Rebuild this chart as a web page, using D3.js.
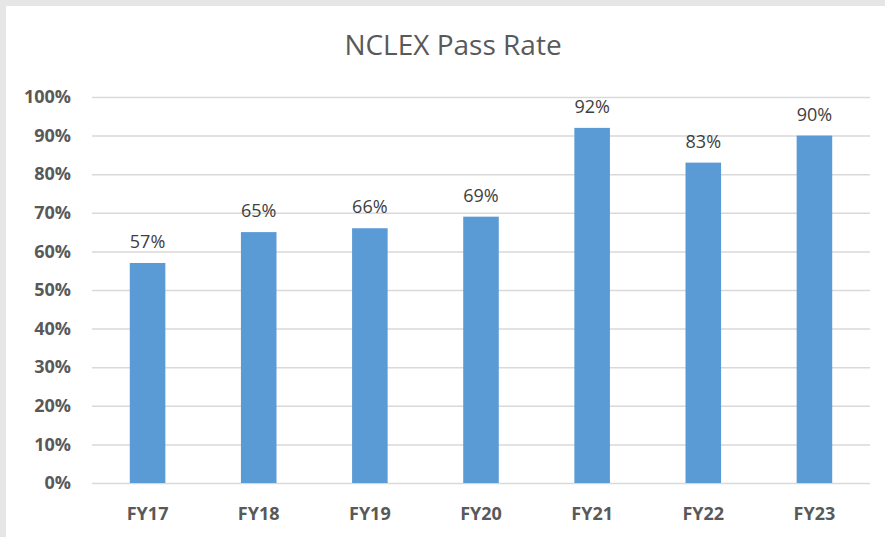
<!DOCTYPE html>
<html>
<head>
<meta charset="utf-8">
<script src="https://cdn.jsdelivr.net/npm/d3@7"></script>
<style>
  body { margin: 0; background: #e8e8e8; }
  svg { display: block; }
</style>
</head>
<body>
<div id="chart"></div>
<script>
// data
var years = ["FY17", "FY18", "FY19", "FY20", "FY21", "FY22", "FY23"];
var passRate = [57, 65, 66, 69, 92, 83, 90];
var yTicks = [0, 10, 20, 30, 40, 50, 60, 70, 80, 90, 100];

const width = 885,
    height = 537,
    plotLeft = 92,
    plotRight = 870,
    plotTop = 97,
    plotBottom = 483,
    barColor = "#5b9bd5",
    gridColor = "#d9d9d9",
    textColor = "#595959";

var svg = d3.select("#chart").append("svg")
    .attr("width", width)
    .attr("height", height);

// grey frame + white chart area
svg.append("rect")
    .attr("x", 0).attr("y", 0)
    .attr("width", width).attr("height", height)
    .attr("fill", "#e6e6e6");
svg.append("rect")
    .attr("x", 6).attr("y", 6)
    .attr("width", width - 6).attr("height", height - 6)
    .attr("fill", "#ffffff");

var x = d3.scaleBand()
    .domain(years)
    .range([plotLeft, plotRight])
    .paddingInner(0.68)
    .paddingOuter(0.34);

var y = d3.scaleLinear()
    .domain([0, 100])
    .range([plotBottom, plotTop]);

// title
svg.append("text")
    .attr("x", 453)
    .attr("y", 55)
    .attr("text-anchor", "middle")
    .style("font-family", "'Open Sans', sans-serif")
    .style("font-size", "28px")
    .style("fill", textColor)
    .text("NCLEX Pass Rate");

// y axis (gridlines + labels)
var yAxis = d3.axisLeft(y)
    .tickValues(yTicks)
    .tickSize(-(plotRight - plotLeft))
    .tickPadding(21)
    .tickFormat(d => d + "%");

var gy = svg.append("g")
    .attr("transform", "translate(" + plotLeft + ",0)")
    .call(yAxis);
gy.select(".domain").remove();
gy.selectAll(".tick line")
    .attr("stroke", gridColor)
    .attr("stroke-width", 1.5);
gy.selectAll(".tick text")
    .style("font-family", "'Open Sans', sans-serif")
    .style("font-size", "18px")
    .style("font-weight", "bold")
    .style("fill", textColor);

// x axis labels
var xAxis = d3.axisBottom(x)
    .tickSize(0)
    .tickPadding(24);
var gx = svg.append("g")
    .attr("transform", "translate(0," + plotBottom + ")")
    .call(xAxis);
gx.select(".domain").remove();
gx.selectAll(".tick text")
    .style("font-family", "'Open Sans', sans-serif")
    .style("font-size", "18px")
    .style("font-weight", "bold")
    .style("fill", textColor);

// bars
svg.append("g")
    .selectAll("rect")
    .data(passRate)
    .enter().append("rect")
    .attr("x", (d, i) => x(years[i]))
    .attr("y", d => y(d))
    .attr("width", x.bandwidth())
    .attr("height", d => y(0) - y(d))
    .attr("fill", barColor);

// data labels
svg.append("g")
    .selectAll("text")
    .data(passRate)
    .enter().append("text")
    .attr("x", (d, i) => x(years[i]) + x.bandwidth() / 2)
    .attr("y", d => y(d) - 15)
    .attr("text-anchor", "middle")
    .style("font-family", "'Open Sans', sans-serif")
    .style("font-size", "18px")
    .style("fill", "#404040")
    .text(d => d + "%");
</script>
</body>
</html>
